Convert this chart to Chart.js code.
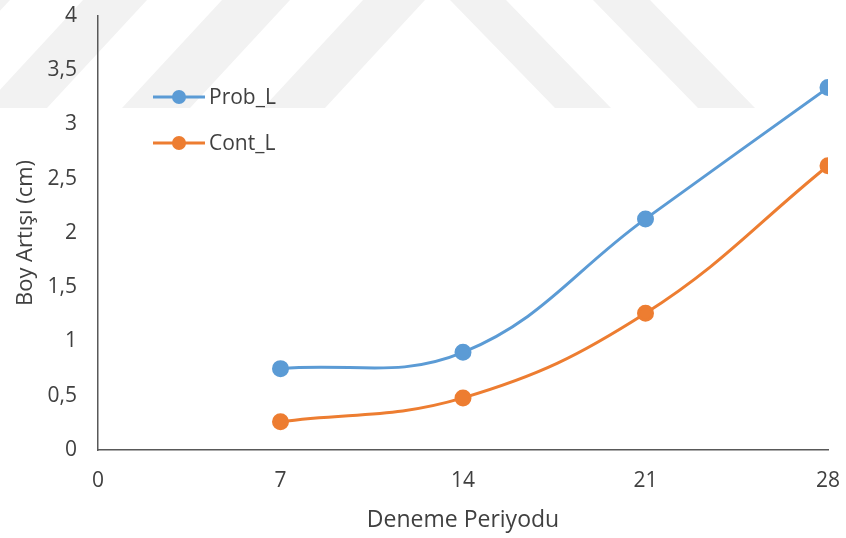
<!DOCTYPE html>
<html>
<head>
<meta charset="utf-8">
<script src="https://cdn.jsdelivr.net/npm/chart.js@4/dist/chart.umd.min.js"></script>
<style>
  html, body { margin: 0; padding: 0; background: #ffffff; }
  #wrap { width: 846px; height: 538px; position: relative; }
</style>
</head>
<body>
<div id="wrap"><canvas id="c" width="846" height="538"></canvas></div>
<script>
// Trial periods (days) and height increase per group
const periods = [7, 14, 21, 28];
const probL = [0.75, 0.90, 2.13, 3.34];
const contL = [0.26, 0.48, 1.26, 2.62];
const xTicks = [0, 7, 14, 21, 28];
const seriesNames = ['Prob_L', 'Cont_L'];
const seriesColors = ['#5b9bd5', '#ed7d31'];

const textColor = '#404040';
const axisColor = '#595959';
const fontFamily = '"Open Sans", "Noto Sans", sans-serif';

const toPoints = (vals) => periods.map((p, i) => ({ x: p, y: vals[i] }));

// Faint diagonal stripes of the page background (top strip)
const backgroundStripes = {
  id: 'backgroundStripes',
  beforeDraw(chart) {
    const ctx = chart.ctx;
    const h = 108;
    // [top-left x, top-right x, horizontal drift to the bottom edge]
    const stripes = [
      [-55, 10, -100], [83, 147, -100], [222, 290, -100], [363, 425, -100],
      [450, 506, 105], [593, 650, 105]
    ];
    ctx.save();
    ctx.fillStyle = '#f2f2f2';
    stripes.forEach(([a, b, d]) => {
      ctx.beginPath();
      ctx.moveTo(a, 0);
      ctx.lineTo(b, 0);
      ctx.lineTo(b + d, h);
      ctx.lineTo(a + d, h);
      ctx.closePath();
      ctx.fill();
    });
    ctx.restore();
  }
};

// Legend drawn inside the plot area, line + marker + name
const insideLegend = {
  id: 'insideLegend',
  afterDraw(chart) {
    const ctx = chart.ctx;
    const x0 = 153, x1 = 205, rowY = [97, 143];
    chart.data.datasets.forEach((ds, i) => {
      const y = rowY[i];
      ctx.save();
      ctx.strokeStyle = ds.borderColor;
      ctx.lineWidth = 3;
      ctx.beginPath();
      ctx.moveTo(x0, y);
      ctx.lineTo(x1, y);
      ctx.stroke();
      ctx.fillStyle = ds.backgroundColor;
      ctx.beginPath();
      ctx.arc((x0 + x1) / 2, y, 7, 0, Math.PI * 2);
      ctx.fill();
      ctx.fillStyle = textColor;
      ctx.font = '21px ' + fontFamily;
      ctx.textBaseline = 'middle';
      ctx.textAlign = 'left';
      ctx.fillText(ds.label, x1 + 4, y + 1);
      ctx.restore();
    });
  }
};

new Chart(document.getElementById('c'), {
  type: 'line',
  data: {
    datasets: [
      { label: seriesNames[0], data: toPoints(probL) },
      { label: seriesNames[1], data: toPoints(contL) }
    ].map((d, i) => Object.assign(d, {
      borderColor: seriesColors[i],
      backgroundColor: seriesColors[i],
      pointBackgroundColor: seriesColors[i],
      pointBorderColor: seriesColors[i],
      borderWidth: 3,
      pointRadius: 7,
      pointHoverRadius: 7,
      tension: 0.4,
      fill: false
    }))
  },
  options: {
    responsive: false,
    animation: false,
    events: [],
    layout: { padding: { top: 16, right: 18, bottom: 0, left: 0 } },
    plugins: { legend: { display: false }, tooltip: { enabled: false } },
    scales: {
      x: {
        type: 'linear',
        min: 0,
        max: 28,
        afterBuildTicks: (s) => { s.ticks = xTicks.map(v => ({ value: v })); },
        afterFit: (s) => { s.height = 88; s.paddingLeft = 0; s.paddingRight = 0; },
        grid: { display: false, drawTicks: false },
        border: { display: true, color: axisColor, width: 1.5 },
        ticks: {
          color: textColor,
          font: { family: fontFamily, size: 21 },
          padding: 18,
          maxRotation: 0
        },
        title: {
          display: true,
          text: 'Deneme Periyodu',
          color: textColor,
          font: { family: fontFamily, size: 23 },
          padding: { top: 0, bottom: 4 }
        }
      },
      y: {
        min: 0,
        max: 4,
        afterFit: (s) => { s.width = 98; s.paddingTop = 0; s.paddingBottom = 0; },
        grid: { display: false, drawTicks: false },
        border: { display: true, color: axisColor, width: 1.5 },
        ticks: {
          stepSize: 0.5,
          color: textColor,
          font: { family: fontFamily, size: 21 },
          padding: 21,
          callback: (v) => String(v).replace('.', ',')
        },
        title: {
          display: true,
          text: 'Boy Artışı (cm)',
          color: textColor,
          font: { family: fontFamily, size: 22 },
          padding: { top: 13, bottom: 0 }
        }
      }
    }
  },
  plugins: [backgroundStripes, insideLegend]
});
</script>
</body>
</html>
